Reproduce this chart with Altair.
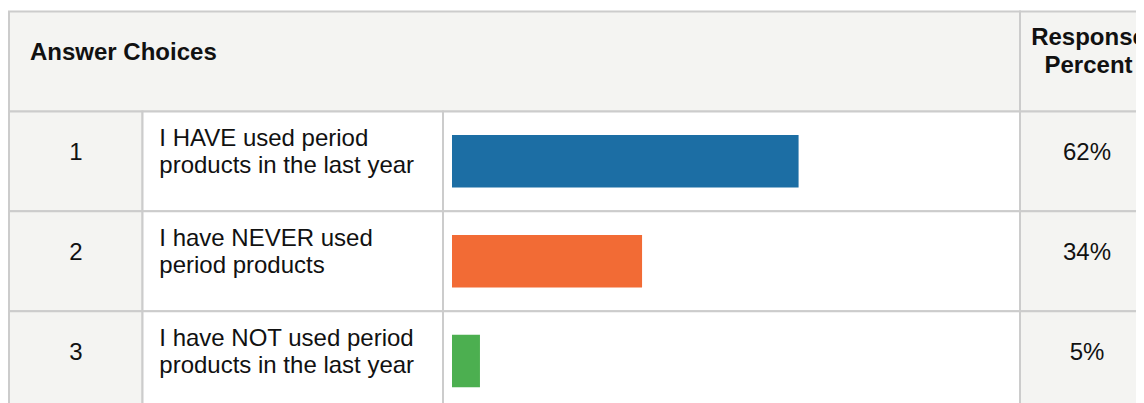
import altair as alt
import pandas as pd

# ---- data ----
row_ids = ["1", "2", "3"]
answer_choices = [
    "I HAVE used period\nproducts in the last year",
    "I have NEVER used\nperiod products",
    "I have NOT used period\nproducts in the last year",
]
response_percent = [62, 34, 5]
percent_labels = ["62%", "34%", "5%"]
bar_colors = ["#1c6ea4", "#f26b35", "#4caf50"]
header_left = "Answer Choices"
header_right = "Response\nPercent"

# ---- layout (plot-area pixels) ----
W, H = 1128, 395
col_edges = [1, 134.5, 435, 1012, 1146]
bar_range = [444, 1003]
row_keys = ["header"] + row_ids
y_range = [3.5, 403]
FONT = "Liberation Sans"
GRID = "#cccccc"
SHADE = "#f4f4f2"
TXT = "#111111"
FS = 24

px = alt.Scale(domain=[0, W], range=[0, W], nice=False, zero=False)
yscale = alt.Scale(type="band", domain=row_keys, range=y_range,
                   paddingInner=0, paddingOuter=0)
Y = alt.Y("row:N", scale=yscale, axis=None)

# cells
cells = [
    {"row": "header", "x0": col_edges[0], "x1": col_edges[3], "fill": SHADE},
    {"row": "header", "x0": col_edges[3], "x1": col_edges[4], "fill": SHADE},
]
col_fills = [SHADE, "white", "white", SHADE]
for r in row_ids:
    for i in range(4):
        cells.append({"row": r, "x0": col_edges[i], "x1": col_edges[i + 1],
                      "fill": col_fills[i]})
cells_df = pd.DataFrame(cells)

rows_df = pd.DataFrame({
    "row": row_ids,
    "label": answer_choices,
    "pct": response_percent,
    "pct_label": percent_labels,
    "color": bar_colors,
})

cell_layer = alt.Chart(cells_df).mark_rect(stroke=GRID, strokeWidth=2).encode(
    x=alt.X("x0:Q", scale=px, axis=None),
    x2="x1:Q",
    y=Y,
    color=alt.Color("fill:N", scale=None),
)

bar_layer = alt.Chart(rows_df).mark_bar(size=52.5).encode(
    x=alt.X("pct:Q", scale=alt.Scale(domain=[0, 100], range=bar_range, nice=False),
            axis=None),
    y=Y,
    color=alt.Color("color:N", scale=None),
)

header_df = pd.DataFrame({
    "row": ["header"],
    "hl": [header_left],
    "hr": [header_right],
})

head_left_layer = alt.Chart(header_df).mark_text(
    align="left", baseline="alphabetic", font=FONT, fontSize=FS,
    fontWeight="bold", color=TXT, dy=-1.5,
).encode(x=alt.value(22), y=Y, text="hl:N")

head_right_layer = alt.Chart(header_df).mark_text(
    align="center", baseline="alphabetic", font=FONT, fontSize=FS,
    fontWeight="bold", color=TXT, dy=-16.4, lineBreak="\n", lineHeight=27.7,
).encode(x=alt.value(1080.5), y=Y, text="hr:N")

num_layer = alt.Chart(rows_df).mark_text(
    align="center", baseline="alphabetic", font=FONT, fontSize=FS,
    color=TXT, dy=-1,
).encode(x=alt.value(68), y=Y, text="row:N")

label_layer = alt.Chart(rows_df).mark_text(
    align="left", baseline="alphabetic", font=FONT, fontSize=FS,
    color=TXT, dy=-15.5, lineBreak="\n", lineHeight=27,
).encode(x=alt.value(151.3), y=Y, text="label:N")

pct_layer = alt.Chart(rows_df).mark_text(
    align="center", baseline="alphabetic", font=FONT, fontSize=FS,
    color=TXT, dy=-1,
).encode(x=alt.value(1079), y=Y, text="pct_label:N")

chart = alt.layer(
    cell_layer, bar_layer, head_left_layer, head_right_layer,
    num_layer, label_layer, pct_layer,
).resolve_scale(x="independent").properties(
    width=W, height=H, padding=0,
    autosize=alt.AutoSizeParams(type="none"),
    background="white",
).configure_view(stroke=None)

chart.save("out.html", embed_options={"renderer": "svg", "actions": False})
